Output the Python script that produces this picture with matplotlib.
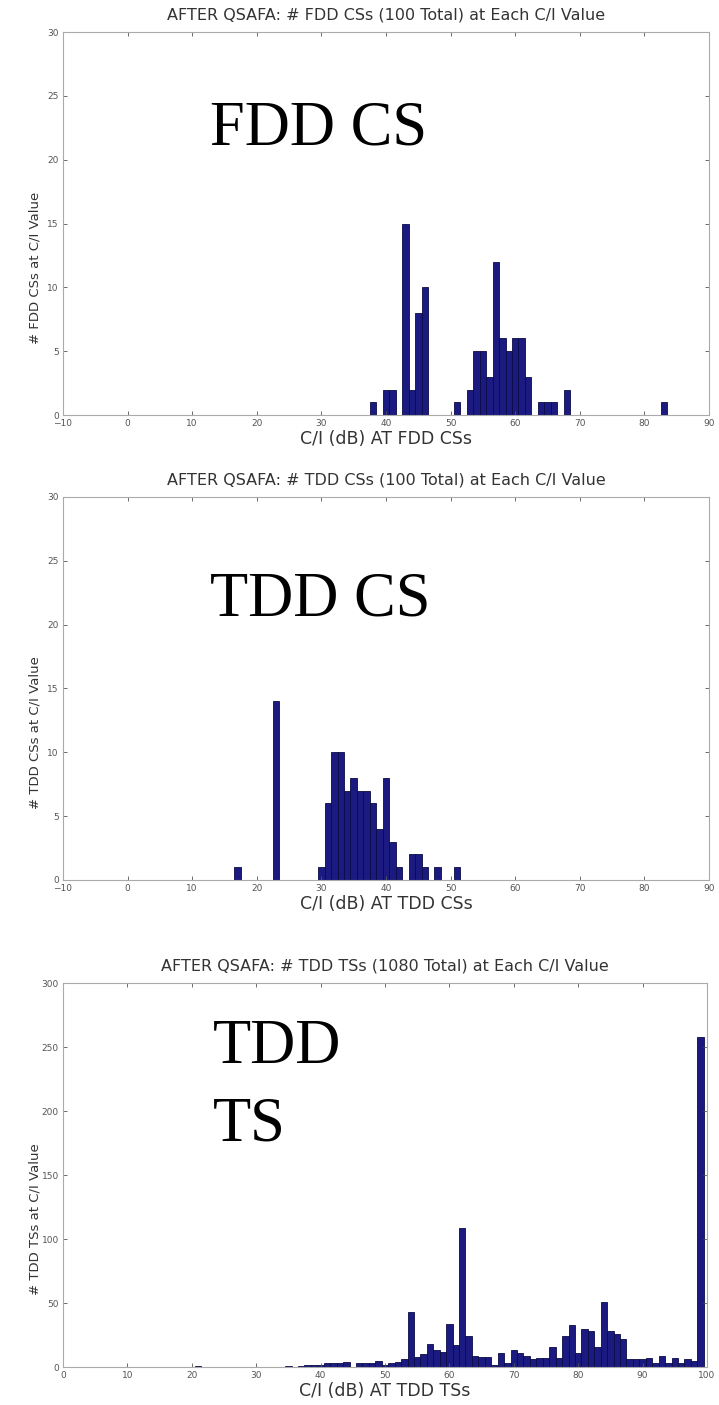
import matplotlib
matplotlib.use('Agg')
import matplotlib.pyplot as plt

# top panel: FDD CSs
fdd_ci = [38, 40, 41, 43, 44, 45, 46, 51, 53, 54, 55, 56, 57, 58, 59, 60, 61, 62, 64, 65, 66, 68, 83]
fdd_count = [1, 2, 2, 15, 2, 8, 10, 1, 2, 5, 5, 3, 12, 6, 5, 6, 6, 3, 1, 1, 1, 2, 1]

# middle panel: TDD CSs
tddcs_ci = [17, 23, 30, 31, 32, 33, 34, 35, 36, 37, 38, 39, 40, 41, 42, 44, 45, 46, 48, 51]
tddcs_count = [1, 14, 1, 6, 10, 10, 7, 8, 7, 7, 6, 4, 8, 3, 1, 2, 2, 1, 1, 1]

# bottom panel: TDD TSs
tddts_ci = [21, 35, 37, 38, 39, 40, 41, 42, 43, 44, 46, 47, 48, 49, 50, 51, 52, 53,
            54, 55, 56, 57, 58, 59, 60, 61, 62, 63, 64, 65, 66, 67, 68, 69, 70, 71,
            72, 73, 74, 75, 76, 77, 78, 79, 80, 81, 82, 83, 84, 85, 86, 87, 88, 89,
            90, 91, 92, 93, 94, 95, 96, 97, 98, 99]
tddts_count = [1, 1, 1, 2, 2, 2, 3, 3, 3, 4, 3, 3, 3, 5, 2, 3, 4, 6,
               43, 8, 10, 18, 13, 12, 34, 17, 109, 24, 9, 8, 8, 2, 11, 3, 13, 11,
               9, 6, 7, 7, 16, 7, 24, 33, 11, 30, 28, 16, 51, 28, 26, 22, 6, 6,
               6, 7, 3, 9, 3, 7, 3, 6, 5, 258]

bar_color = '#1a1a80'
edge_color = '#0b0b45'
grey = '#555555'
txt = '#333333'

fig = plt.figure(figsize=(7.19, 14.05), dpi=100)

panels = [
    dict(rect=[0.0876, 0.7046, 0.8985, 0.2726], x=fdd_ci, y=fdd_count,
         xlim=(-10, 90), xticks=range(-10, 91, 10), ylim=(0, 30), yticks=range(0, 31, 5),
         title='AFTER QSAFA: # FDD CSs (100 Total) at Each C/I Value',
         ylabel='# FDD CSs at C/I Value', xlabel='C/I (dB) AT FDD CSs'),
    dict(rect=[0.0876, 0.3737, 0.8985, 0.2726], x=tddcs_ci, y=tddcs_count,
         xlim=(-10, 90), xticks=range(-10, 91, 10), ylim=(0, 30), yticks=range(0, 31, 5),
         title='AFTER QSAFA: # TDD CSs (100 Total) at Each C/I Value',
         ylabel='# TDD CSs at C/I Value', xlabel='C/I (dB) AT TDD CSs'),
    dict(rect=[0.0876, 0.0270, 0.8957, 0.2733], x=tddts_ci, y=tddts_count,
         xlim=(0, 100), xticks=range(0, 101, 10), ylim=(0, 300), yticks=range(0, 301, 50),
         title='AFTER QSAFA: # TDD TSs (1080 Total) at Each C/I Value',
         ylabel='# TDD TSs at C/I Value', xlabel='C/I (dB) AT TDD TSs'),
]

for p in panels:
    ax = fig.add_axes(p['rect'])
    ax.bar(p['x'], p['y'], width=1.0, color=bar_color, edgecolor=edge_color, linewidth=0.6)
    ax.set_xlim(*p['xlim'])
    ax.set_ylim(*p['ylim'])
    ax.set_xticks(list(p['xticks']))
    ax.set_yticks(list(p['yticks']))
    ax.tick_params(direction='in', length=3, width=0.6, colors=grey, labelsize=6.5,
                   top=True, right=True, pad=3)
    for s in ax.spines.values():
        s.set_color('#aaaaaa')
        s.set_linewidth(0.8)
    ax.set_title(p['title'], fontsize=11.5, color=txt, family='DejaVu Sans', pad=9)
    ax.set_ylabel(p['ylabel'], fontsize=9.5, color=txt, family='DejaVu Sans')
    ax.yaxis.set_label_coords(-0.034, 0.385)
    ax.set_xlabel(p['xlabel'], fontsize=12.5, color=txt, family='DejaVu Sans', labelpad=1)

# large overlaid labels
big = dict(fontsize=45, family='Liberation Serif', color='black')
fig.text(0.292, 0.897, 'FDD CS', **big)
fig.text(0.292, 0.562, 'TDD CS', **big)
fig.text(0.296, 0.2434, 'TDD', **big)
fig.text(0.296, 0.1886, 'TS', **big)

fig.savefig('out.png', dpi=100)
